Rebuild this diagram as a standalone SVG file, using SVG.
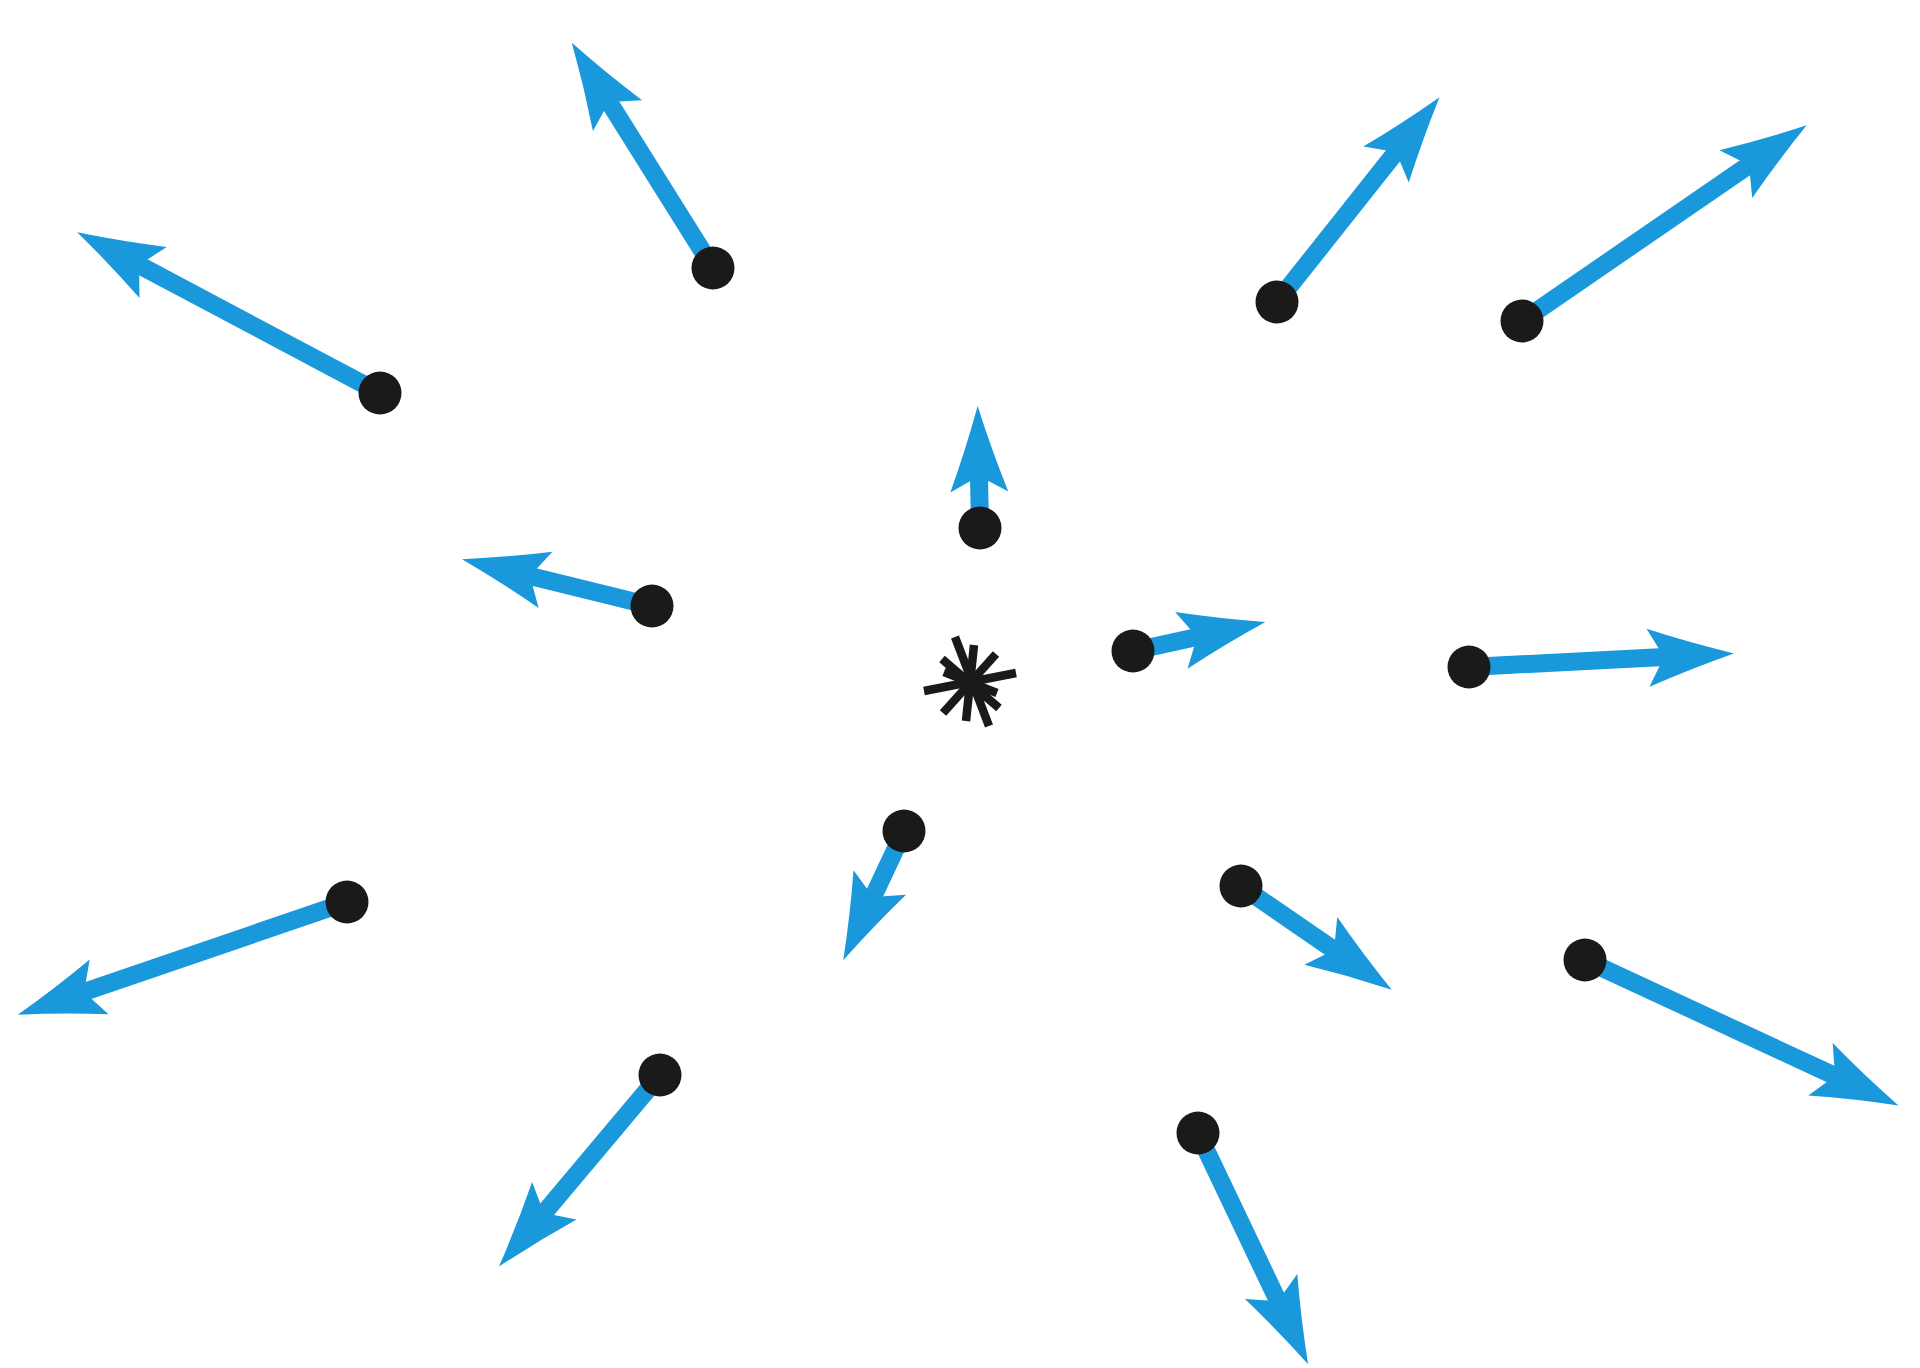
<svg xmlns="http://www.w3.org/2000/svg" width="1920" height="1368" viewBox="0 0 1920 1368">
<defs>
<style>
.vec{stroke:#1a98dc;stroke-width:18;fill:none;stroke-linecap:butt;marker-end:url(#head)}
.dot{fill:#1a1a1a}
.ray{stroke:#1a1a1a;stroke-width:8.5;stroke-linecap:butt}
</style>
<marker id="head" markerUnits="userSpaceOnUse" viewBox="-95 -35 100 70" markerWidth="100" markerHeight="70" refX="-70" refY="0" orient="auto">
<path d="M0,0 Q-44,-13 -86,-29 L-70,0 L-86,29 Q-44,13 0,0 Z" fill="#1a98dc"/>
</marker>
</defs>
<rect width="1920" height="1368" fill="#ffffff"/>
<g id="connectors">
<line class="vec" x1="380" y1="393" x2="139" y2="265"/>
<line class="vec" x1="713" y1="268" x2="609" y2="102"/>
<line class="vec" x1="1277" y1="302" x2="1396" y2="152"/>
<line class="vec" x1="1522" y1="321" x2="1749" y2="165"/>
<line class="vec" x1="980" y1="528" x2="979" y2="476"/>
<line class="vec" x1="652" y1="606" x2="530" y2="576"/>
<line class="vec" x1="1133" y1="651" x2="1197" y2="637"/>
<line class="vec" x1="1469" y1="667" x2="1664" y2="657"/>
<line class="vec" x1="904" y1="831" x2="873" y2="897"/>
<line class="vec" x1="1241" y1="886" x2="1334" y2="950"/>
<line class="vec" x1="1585" y1="960" x2="1835" y2="1076"/>
<line class="vec" x1="347" y1="902" x2="84" y2="992"/>
<line class="vec" x1="660" y1="1075" x2="544" y2="1213"/>
<line class="vec" x1="1198" y1="1133" x2="1278" y2="1301"/>
</g>
<g id="source">
<line class="ray" x1="924" y1="691" x2="1016" y2="673"/>
<line class="ray" x1="955" y1="637" x2="989" y2="726"/>
<line class="ray" x1="974" y1="645" x2="966" y2="721"/>
<line class="ray" x1="942" y1="659" x2="999" y2="708"/>
<line class="ray" x1="996" y1="654" x2="943" y2="713"/>
<line class="ray" x1="944" y1="672" x2="997" y2="693"/>
</g>
<g id="p1"><circle class="dot" cx="380" cy="393" r="21.5"/></g>
<g id="p2"><circle class="dot" cx="713" cy="268" r="21.5"/></g>
<g id="p3"><circle class="dot" cx="1277" cy="302" r="21.5"/></g>
<g id="p4"><circle class="dot" cx="1522" cy="321" r="21.5"/></g>
<g id="p5"><circle class="dot" cx="980" cy="528" r="21.5"/></g>
<g id="p6"><circle class="dot" cx="652" cy="606" r="21.5"/></g>
<g id="p7"><circle class="dot" cx="1133" cy="651" r="21.5"/></g>
<g id="p8"><circle class="dot" cx="1469" cy="667" r="21.5"/></g>
<g id="p9"><circle class="dot" cx="904" cy="831" r="21.5"/></g>
<g id="p10"><circle class="dot" cx="1241" cy="886" r="21.5"/></g>
<g id="p11"><circle class="dot" cx="1585" cy="960" r="21.5"/></g>
<g id="p12"><circle class="dot" cx="347" cy="902" r="21.5"/></g>
<g id="p13"><circle class="dot" cx="660" cy="1075" r="21.5"/></g>
<g id="p14"><circle class="dot" cx="1198" cy="1133" r="21.5"/></g>
</svg>
